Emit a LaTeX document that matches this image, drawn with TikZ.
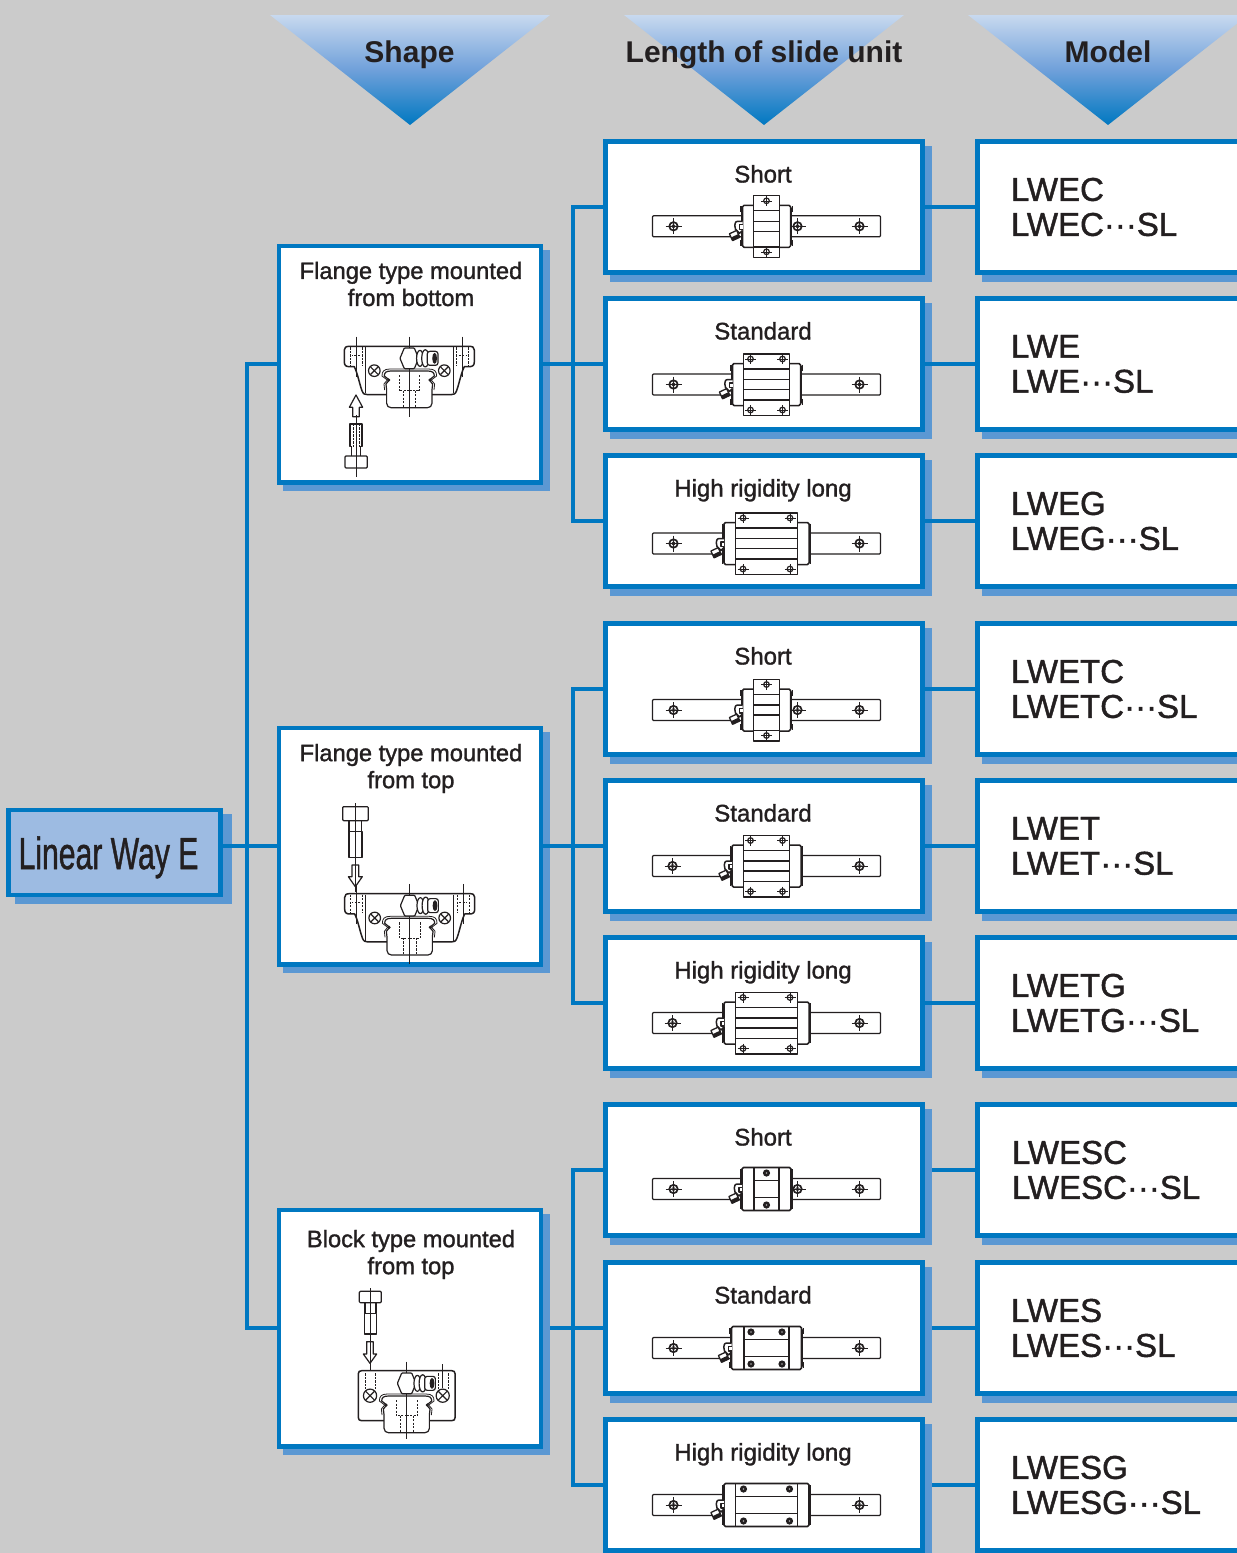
\documentclass[tikz,border=0pt]{standalone}
\usepackage{fontspec}
\setmainfont{Liberation Sans}
\newfontfamily\medfont[FakeBold=1.3]{Liberation Sans}
\usetikzlibrary{shadows}
\definecolor{lwblue}{HTML}{0078C1}
\definecolor{shadowblue}{HTML}{5B98D3}
\definecolor{rootfill}{HTML}{9DBBE2}
\definecolor{greybg}{HTML}{CBCBCB}
\definecolor{ink}{HTML}{231F20}
\definecolor{triA}{HTML}{C8D9EF}
\definecolor{triB}{HTML}{6FA0DA}
\pgfdeclarelayer{under}
\pgfsetlayers{under,main}
\tikzset{
  lwbox/.style={draw=lwblue,line width=4.7pt,fill=white,inner sep=0pt,
    copy shadow={shadow xshift=6.7pt,shadow yshift=-6.7pt,draw=shadowblue,fill=shadowblue}},
  midbox/.style={lwbox,minimum width=317.3pt,minimum height=131.3pt},
  shapebox/.style={lwbox,minimum width=261.9pt,minimum height=236.3pt},
  modelbox/.style={lwbox,anchor=west,minimum height=131.3pt,text width=240pt,inner xsep=33.65pt,
    align=left,text=ink,font=\fontsize{33}{35}\selectfont\medfont},
  rootbox/.style={draw=lwblue,line width=4.7pt,fill=rootfill,inner sep=0pt,
    minimum width=212pt,minimum height=85pt,
    copy shadow={shadow xshift=8.6pt,shadow yshift=-6.8pt,draw=shadowblue,fill=shadowblue}},
  rootlabel/.style={text=ink,inner sep=0pt,anchor=base,font=\fontsize{45}{50}\selectfont\medfont},
  conn/.style={draw=lwblue,line width=4.6pt},
  head/.style={anchor=base,text=ink,inner sep=0pt,font=\fontsize{30}{36}\selectfont\bfseries},
  midlabel/.style={anchor=base,text=ink,inner sep=0pt,font=\fontsize{24}{27}\selectfont\medfont},
  shapelabel/.style={align=center,text=ink,inner sep=0pt,font=\fontsize{23.7}{27}\selectfont\medfont},
  ln/.style={draw=ink,line width=1.2pt,line join=round},
  hair/.style={draw=ink,line width=.5pt},
  dsh/.style={draw=ink,line width=.7pt,dash pattern=on 2.2pt off 1.3pt},
  tri/.style={top color=triA,bottom color=lwblue,middle color=triB},
  sect/.style={x=.3333pt,y=-.3333pt},
}
% --- top-view drawings ---
\newcommand\railhole[1]{%
  \begin{scope}[shift={(#1,0)}]
    \draw[hair] (-8,0)--(8,0) (0,-8)--(0,8);
    \draw[draw=ink,line width=1.7pt] (0,0) circle [radius=4.2pt];
    \draw[draw=ink,line width=.7pt] (0,0) circle [radius=1.9pt];
  \end{scope}}
\newcommand\railbar[1]{%
  \draw[ln,fill=white,rounded corners=1pt] (-114,-10.5) rectangle (114,10.5);
  \foreach \hx in {#1} {\railhole{\hx}}}
\newcommand\nipple[1]{%
  \begin{scope}[shift={(#1,0)}]
    \draw[ln,fill=white,line width=1.5pt] (0,-5) -- (-5,-5) .. controls (-8,-5) and (-8,-1) .. (-7,3) -- (-3,7) -- (0,4);
    \draw[ln,fill=white] (0,-1.5) -- (-3,-1.5) -- (-3,3) -- (0,3);
    \begin{scope}[shift={(-8,9)},rotate=25]
      \draw[ln,fill=white,line width=1.3pt] (-4,-3.5) rectangle (4,4);
      \fill[ink] (-4,.5) rectangle (4,4);
    \end{scope}
  \end{scope}}
\newcommand\bodycaps[1]{%
  \draw[draw=ink,line width=2.6pt,line cap=round] (-#1-.6,-18)--(-#1-.6,18) (#1+.6,-18)--(#1+.6,18);
  \draw[ln] (-#1-1.6,-20) -- (-#1-1.6,-14) (-#1-1.6,14) -- (-#1-1.6,20) (#1+1.6,-20) -- (#1+1.6,-14) (#1+1.6,14) -- (#1+1.6,20);}
% args: rail y, body half, carriage half, carriage hole xs, last line y, rail hole xs
\newcommand\flangeunit[6]{%
  \begin{scope}[shift={(766.5,#1)}]
    \railbar{#6}
    \bodycaps{#2}
    \draw[ln,fill=white,line width=1.5pt,rounded corners=1.5pt] (-#2,-21) rectangle (#2,21);
    \draw[ln,fill=white] (-#3,-30.5) rectangle (#3,31);
    \foreach \ly in {-15.5,-5,5,#5} {\draw[ln] (-#3,\ly)--(#3,\ly);}
    \foreach \hx in {#4} {\foreach \hy in {-25.5,25.5} {
      \draw[hair] (\hx-5.5,\hy)--(\hx+5.5,\hy) (\hx,\hy-5)--(\hx,\hy+5);
      \draw[draw=ink,line width=1.2pt] (\hx,\hy) circle [radius=2.8pt];}}
    \nipple{-#2}
  \end{scope}}
% args: rail y, body half, inner half, hole xs, rail hole xs
\newcommand\blockunit[5]{%
  \begin{scope}[shift={(766.5,#1)}]
    \railbar{#5}
    \bodycaps{#2}
    \draw[ln,fill=white,line width=1.6pt,rounded corners=1.5pt] (-#2,-21.5) rectangle (#2,21.5);
    \draw[ln] (-#3,-21.5)--(-#3,21.5) (#3,-21.5)--(#3,21.5) (-#3,-8.3)--(#3,-8.3) (-#3,8.3)--(#3,8.3);
    \foreach \hx in {#4} {\foreach \hy in {-16,16} {
      \fill[ink] (\hx,\hy) circle [radius=3.6pt];
      \fill[white!60!ink] (\hx,\hy) circle [radius=.8pt];}}
    \nipple{-#2}
  \end{scope}}
% --- section drawings (1 unit = 1/3 px) ---
\newcommand\railsec{%
  \foreach \sx in {1,-1} {
    \begin{scope}[xscale=\sx]
      \draw[ln,fill=white] (0,3) -- (55,3) .. controls (70,3) and (75,8) .. (75,18) -- (60,30) -- (70,42) -- (68,60) -- (68,100) .. controls (68,108) and (62,113) .. (55,113) -- (0,113);
      \draw[ln,line width=.8pt] (0,-3) -- (58,-3) .. controls (76,-3) and (82,4) .. (82,18) -- (66,30) -- (76,42) -- (74,60);
      \fill[ink] (62,30) circle [radius=1.7pt];
      \draw[dsh] (31,15)--(31,62) (19,62)--(19,113) (0,62)--(31,62);
    \end{scope}}}
\newcommand\nipplesec{%
  \draw[ln,fill=white,rounded corners=.8pt] (-28,-35)--(-15,-66)--(15,-66)--(28,-35)--(15,-4)--(-15,-4)--cycle;
  \draw[ln,fill=white] (32,-35) ellipse [x radius=3.4pt,y radius=8pt];
  \draw[ln,fill=white] (48,-35) ellipse [x radius=3.6pt,y radius=8.6pt];
  \draw[ln,fill=white,rounded corners=2.5pt] (54,-56) rectangle (86,-14);
  \fill[ink] (76,-35) ellipse [x radius=2.4pt,y radius=5.5pt];
}
\newcommand\crosshole[2]{%
  \begin{scope}[shift={(#1,#2)}]
    \draw[ln,fill=white] (0,0) circle [radius=5.8pt];
    \draw[ln] (-11,-11)--(11,11) (-11,11)--(11,-11);
  \end{scope}}
\newcommand\flangesec[2]{%
  \begin{scope}[shift={(#1,#2)},sect]
    \foreach \sx in {1,-1} {
      \begin{scope}[xscale=\sx]
        \draw[ln,line width=1.5pt] (0,-71) -- (180,-71) .. controls (190,-71) and (195,-68) .. (195,-60) -- (195,-24) .. controls (195,-14) and (190,-10) .. (180,-10) -- (165,-10) .. controls (155,10) and (150,40) .. (142,62) .. controls (138,72) and (134,74) .. (125,74) -- (68,74);
        \draw[ln] (132,-68)--(132,70);
        \draw[hair] (160,-100)--(160,20);
        \draw[dsh] (142,-68)--(142,-12) (178,-68)--(178,-12) (148,-45)--(172,-45);
      \end{scope}}
    \railsec
    \draw[hair] (0,-100)--(0,140);
    \nipplesec
    \crosshole{-105}{2}\crosshole{105}{2}
  \end{scope}}
\newcommand\blocksec[2]{%
  \begin{scope}[shift={(#1,#2)},sect]
    \foreach \sx in {1,-1} {
      \begin{scope}[xscale=\sx]
        \draw[ln,line width=1.5pt] (0,-73) -- (135,-73) .. controls (142,-73) and (145,-70) .. (145,-64) -- (145,68) .. controls (145,74) and (142,77) .. (135,77) -- (68,77);
        \draw[dsh] (95,-65)--(95,-18) (125,-65)--(125,-18);
      \end{scope}}
    \railsec
    \draw[hair] (0,-100)--(0,133) (108,-93)--(108,-20);
    \nipplesec
    \begin{scope}[shift={(-110,2)}]
      \draw[ln,fill=white] (0,0) circle [radius=6.6pt];
      \draw[ln] (-13,-13)--(13,13) (-13,13)--(13,-13);
    \end{scope}
    \begin{scope}[shift={(108,2)}]
      \draw[ln,fill=white] (0,0) circle [radius=6.6pt];
      \draw[ln] (-13,-13)--(13,13) (-13,13)--(13,-13);
    \end{scope}
  \end{scope}}
\begin{document}
\begin{tikzpicture}[x=1pt,y=-1pt]
\useasboundingbox (0,0) rectangle (1237,1553);
\begin{pgfonlayer}{under}
  \fill[greybg] (0,0) rectangle (1237,1553);
\end{pgfonlayer}
\begin{scope}
\clip (0,0) rectangle (1237,1553);
% header triangles
\shade[tri] (270,15)--(550,15)--(410,125)--cycle;
\shade[tri] (624,15)--(904,15)--(764,125)--cycle;
\shade[tri] (968,15)--(1248,15)--(1108,125)--cycle;
\node[head] (h1) at (409.5,62.5) {Shape};
\node[head] (h2) at (764,62.5) {Length of slide unit};
\node[head] (h3) at (1108,62.5) {Model};
% root
\node[rootbox] (root) at (114.7,852.4) {};
\node[rootlabel] (roott) at (108.5,869) {\scalebox{.67}[1]{Linear Way E}};
% shape boxes
\node[shapebox] (l1) at (410,364) {};
\node[shapebox] (l2) at (410,846) {};
\node[shapebox] (l3) at (410,1328) {};
\node[shapelabel] (l1t) at (411,284) {Flange type mounted\\from bottom};
\node[shapelabel] (l2t) at (411,768.5) {Flange type mounted\\from top};
\node[shapelabel] (l3t) at (411,1254.5) {Block type mounted\\from top};
% length boxes
\foreach \nm/\cy/\tx in {m1/207/Short,m2/364/Standard,m3/521/High rigidity long,
  m4/689/Short,m5/846/Standard,m6/1003/High rigidity long,
  m7/1170/Short,m8/1328/Standard,m9/1485/High rigidity long} {
  \node[midbox] (\nm) at (764,\cy) {};
  \node[midlabel] (\nm t) at (763,{\cy-24.5}) {\tx};
}
% model boxes
\node[modelbox] (x1) at (975,207) {LWEC\\LWEC···SL};
\node[modelbox] (x2) at (975,364) {LWE\\LWE···SL};
\node[modelbox] (x3) at (975,521) {LWEG\\LWEG···SL};
\node[modelbox] (x4) at (975,689) {LWETC\\LWETC···SL};
\node[modelbox] (x5) at (975,846) {LWET\\LWET···SL};
\node[modelbox] (x6) at (975,1003) {LWETG\\LWETG···SL};
\node[modelbox] (x7) at (975,1170) {\hspace*{1pt}LWESC\\\hspace*{1pt}LWESC···SL};
\node[modelbox] (x8) at (975,1328) {LWES\\LWES···SL};
\node[modelbox] (x9) at (975,1485) {LWESG\\LWESG···SL};
% connectors (on top of the shadows)
\coordinate (bus) at (247,846);
\coordinate (j1) at (573,364);
\coordinate (j2) at (573,846);
\draw[conn] (l1.west) -| (bus) |- (l3.west);
\draw[conn] (l2.west) -- (l2.west -| root.east);
\draw[conn] (l1.east) -- (m2.west);
\draw[conn] (m1.west) -| (j1) |- (m3.west);
\draw[conn] (l2.east) -- (m5.west);
\draw[conn] (m4.west) -| (j2) |- (m6.west);
\foreach \a/\b in {m1/x1,m2/x2,m3/x3,m4/x4,m5/x5,m6/x6} {\draw[conn] (\a.east) -- (\b.west);}
% length-of-slide drawings
\flangeunit{226.3}{24}{13}{0}{20.7}{-93,93,31}
\flangeunit{384.5}{34}{23}{-16,16}{15.5}{-93,93}
\flangeunit{543.5}{42.5}{31}{-23.5,23.5}{15.5}{-93,93}
\flangeunit{710}{24}{13}{0}{20.7}{-93,93,31}
\flangeunit{866}{34.5}{23}{-16,16}{15.5}{-94,93}
\flangeunit{1023}{42.5}{31}{-23.5,23.5}{15.5}{-94,93}
\blockunit{1189}{24.5}{12.5}{0}{-93,93,31}
\blockunit{1348}{35}{22.5}{-15.5,15.5}{-93,93}
\blockunit{1505}{42.5}{31}{-23,23}{-93,93}
% section drawings
\flangesec{409.3}{370}
\flangesec{409.7}{917.3}
\blocksec{406.7}{1395}
% bolts
\begin{scope}[shift={(270,320)},sect]
  \draw[ln,fill=white] (258,225)--(278,262)--(268,262)--(268,290)--(248,290)--(248,262)--(238,262)--cycle;
  \draw[ln,line width=1.6pt] (245,380)--(240,380)--(240,312)--(276,312)--(276,380)--(271,380);
  \draw[ln] (245,380)--(245,408) (271,380)--(271,408);
  \draw[ln,rounded corners=1pt] (225,408) rectangle (292,444);
  \draw[hair] (258,285)--(258,472);
  \draw[dsh] (249,312)--(249,380) (267,312)--(267,380);
\end{scope}
\begin{scope}[shift={(270,800)},sect]
  \draw[ln,rounded corners=1pt] (218,20) rectangle (295,62);
  \draw[ln] (237,62)--(237,95) (275,62)--(275,95);
  \draw[ln,line width=1.6pt] (237,95)--(237,173)--(276,173)--(276,95)--cycle;
  \draw[ln,fill=white] (246,195)--(266,195)--(266,230)--(277,230)--(256,260)--(235,230)--(246,230)--cycle;
  \draw[hair] (255,10)--(255,275);
\end{scope}
\begin{scope}[shift={(270,1280)},sect]
  \draw[ln,rounded corners=1pt] (268,34) rectangle (334,68);
  \draw[ln] (285,68)--(285,100) (318,68)--(318,100);
  \draw[ln,line width=1.6pt] (283,100)--(283,162)--(319,162)--(319,100)--cycle;
  \draw[ln,fill=white] (290,185)--(310,185)--(310,222)--(320,222)--(300,250)--(280,222)--(290,222)--cycle;
  \draw[hair] (300,25)--(300,272);
\end{scope}
\end{scope}
% third group: connectors pass under the shadows
\begin{pgfonlayer}{under}
  \coordinate (j3) at (573,1328);
  \draw[conn] (l3.east) -- (m8.west);
  \draw[conn] (m7.west) -| (j3) |- (m9.west);
  \foreach \a/\b in {m7/x7,m8/x8,m9/x9} {\draw[conn] (\a.east) -- (\b.west);}
\end{pgfonlayer}
\end{tikzpicture}
\end{document}
